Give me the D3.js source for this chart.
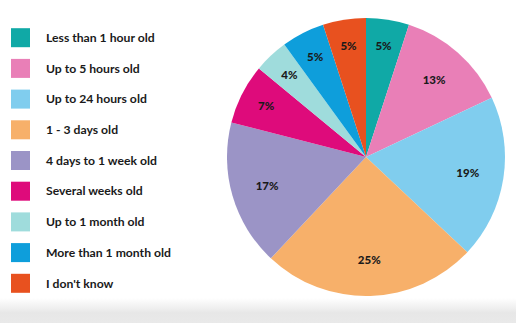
<!DOCTYPE html>
<html>
<head>
<meta charset="utf-8">
<script src="https://cdn.jsdelivr.net/npm/d3@7"></script>
<style>
  html, body { margin: 0; padding: 0; background: #fff; }
  svg { display: block; }
</style>
</head>
<body>
<svg id="chart" width="516" height="323"></svg>
<script>
// Age categories, share of responses (%), and slice colours
const categories = [
  "Less than 1 hour old",
  "Up to 5 hours old",
  "Up to 24 hours old",
  "1 - 3 days old",
  "4 days to 1 week old",
  "Several weeks old",
  "Up to 1 month old",
  "More than 1 month old",
  "I don't know"
];
const values = [5, 13, 19, 25, 17, 7, 4, 5, 5];
const colors = [
  "#10a9a6", "#e97fb7", "#80cdee", "#f7b06a", "#9b94c6",
  "#de0b7b", "#9fdcdc", "#0e9edb", "#e8511f"
];

const svg = d3.select("#chart");
const W = 516, H = 323;

// soft grey band along the bottom edge
const defs = svg.append("defs");
const grad = defs.append("linearGradient")
  .attr("id", "floor").attr("x1", 0).attr("x2", 0).attr("y1", 0).attr("y2", 1);
grad.append("stop").attr("offset", "0%").attr("stop-color", "#ffffff");
grad.append("stop").attr("offset", "60%").attr("stop-color", "#e7e7e7");
grad.append("stop").attr("offset", "100%").attr("stop-color", "#e9e9e9");
svg.append("rect").attr("x", 0).attr("y", 298).attr("width", W).attr("height", H - 298)
  .attr("fill", "url(#floor)");

const cx = 366, cy = 157, R = 139;

const pie = d3.pie().value(d => d).sort(null);
const arcs = pie(values);
const arc = d3.arc().innerRadius(0).outerRadius(R);

const g = svg.append("g").attr("transform", `translate(${cx},${cy})`);
g.selectAll("path.slice")
  .data(arcs)
  .join("path")
  .attr("class", "slice")
  .attr("d", arc)
  .attr("fill", (d, i) => colors[i]);

g.selectAll("text.pct")
  .data(arcs)
  .join("text")
  .attr("class", "pct")
  .attr("transform", d => {
    const r = d.data < 10 ? 112 : 103;
    const a = (d.startAngle + d.endAngle) / 2;
    return `translate(${Math.sin(a) * r},${-Math.cos(a) * r})`;
  })
  .attr("text-anchor", "middle")
  .attr("dy", "0.35em")
  .attr("font-family", "Lato, 'Open Sans', sans-serif")
  .attr("font-weight", 900)
  .attr("font-size", 11.5)
  .attr("fill", "#1a1a1a")
  .text(d => d.data + "%");

// legend
const legend = svg.append("g");
const rowY = d3.scaleLinear().domain([0, categories.length - 1]).range([37.7, 283.3]);
const rows = legend.selectAll("g.row")
  .data(categories)
  .join("g")
  .attr("class", "row")
  .attr("transform", (d, i) => `translate(0,${rowY(i)})`);
rows.append("rect")
  .attr("x", 11).attr("y", -9.5).attr("width", 19).attr("height", 19)
  .attr("fill", (d, i) => colors[i]);
rows.append("text")
  .attr("x", 46).attr("dy", "0.35em")
  .attr("font-family", "Lato, 'Open Sans', sans-serif")
  .attr("font-weight", 700)
  .attr("font-size", 12.2)
  .attr("fill", "#1a1a1a")
  .text(d => d);
</script>
</body>
</html>
